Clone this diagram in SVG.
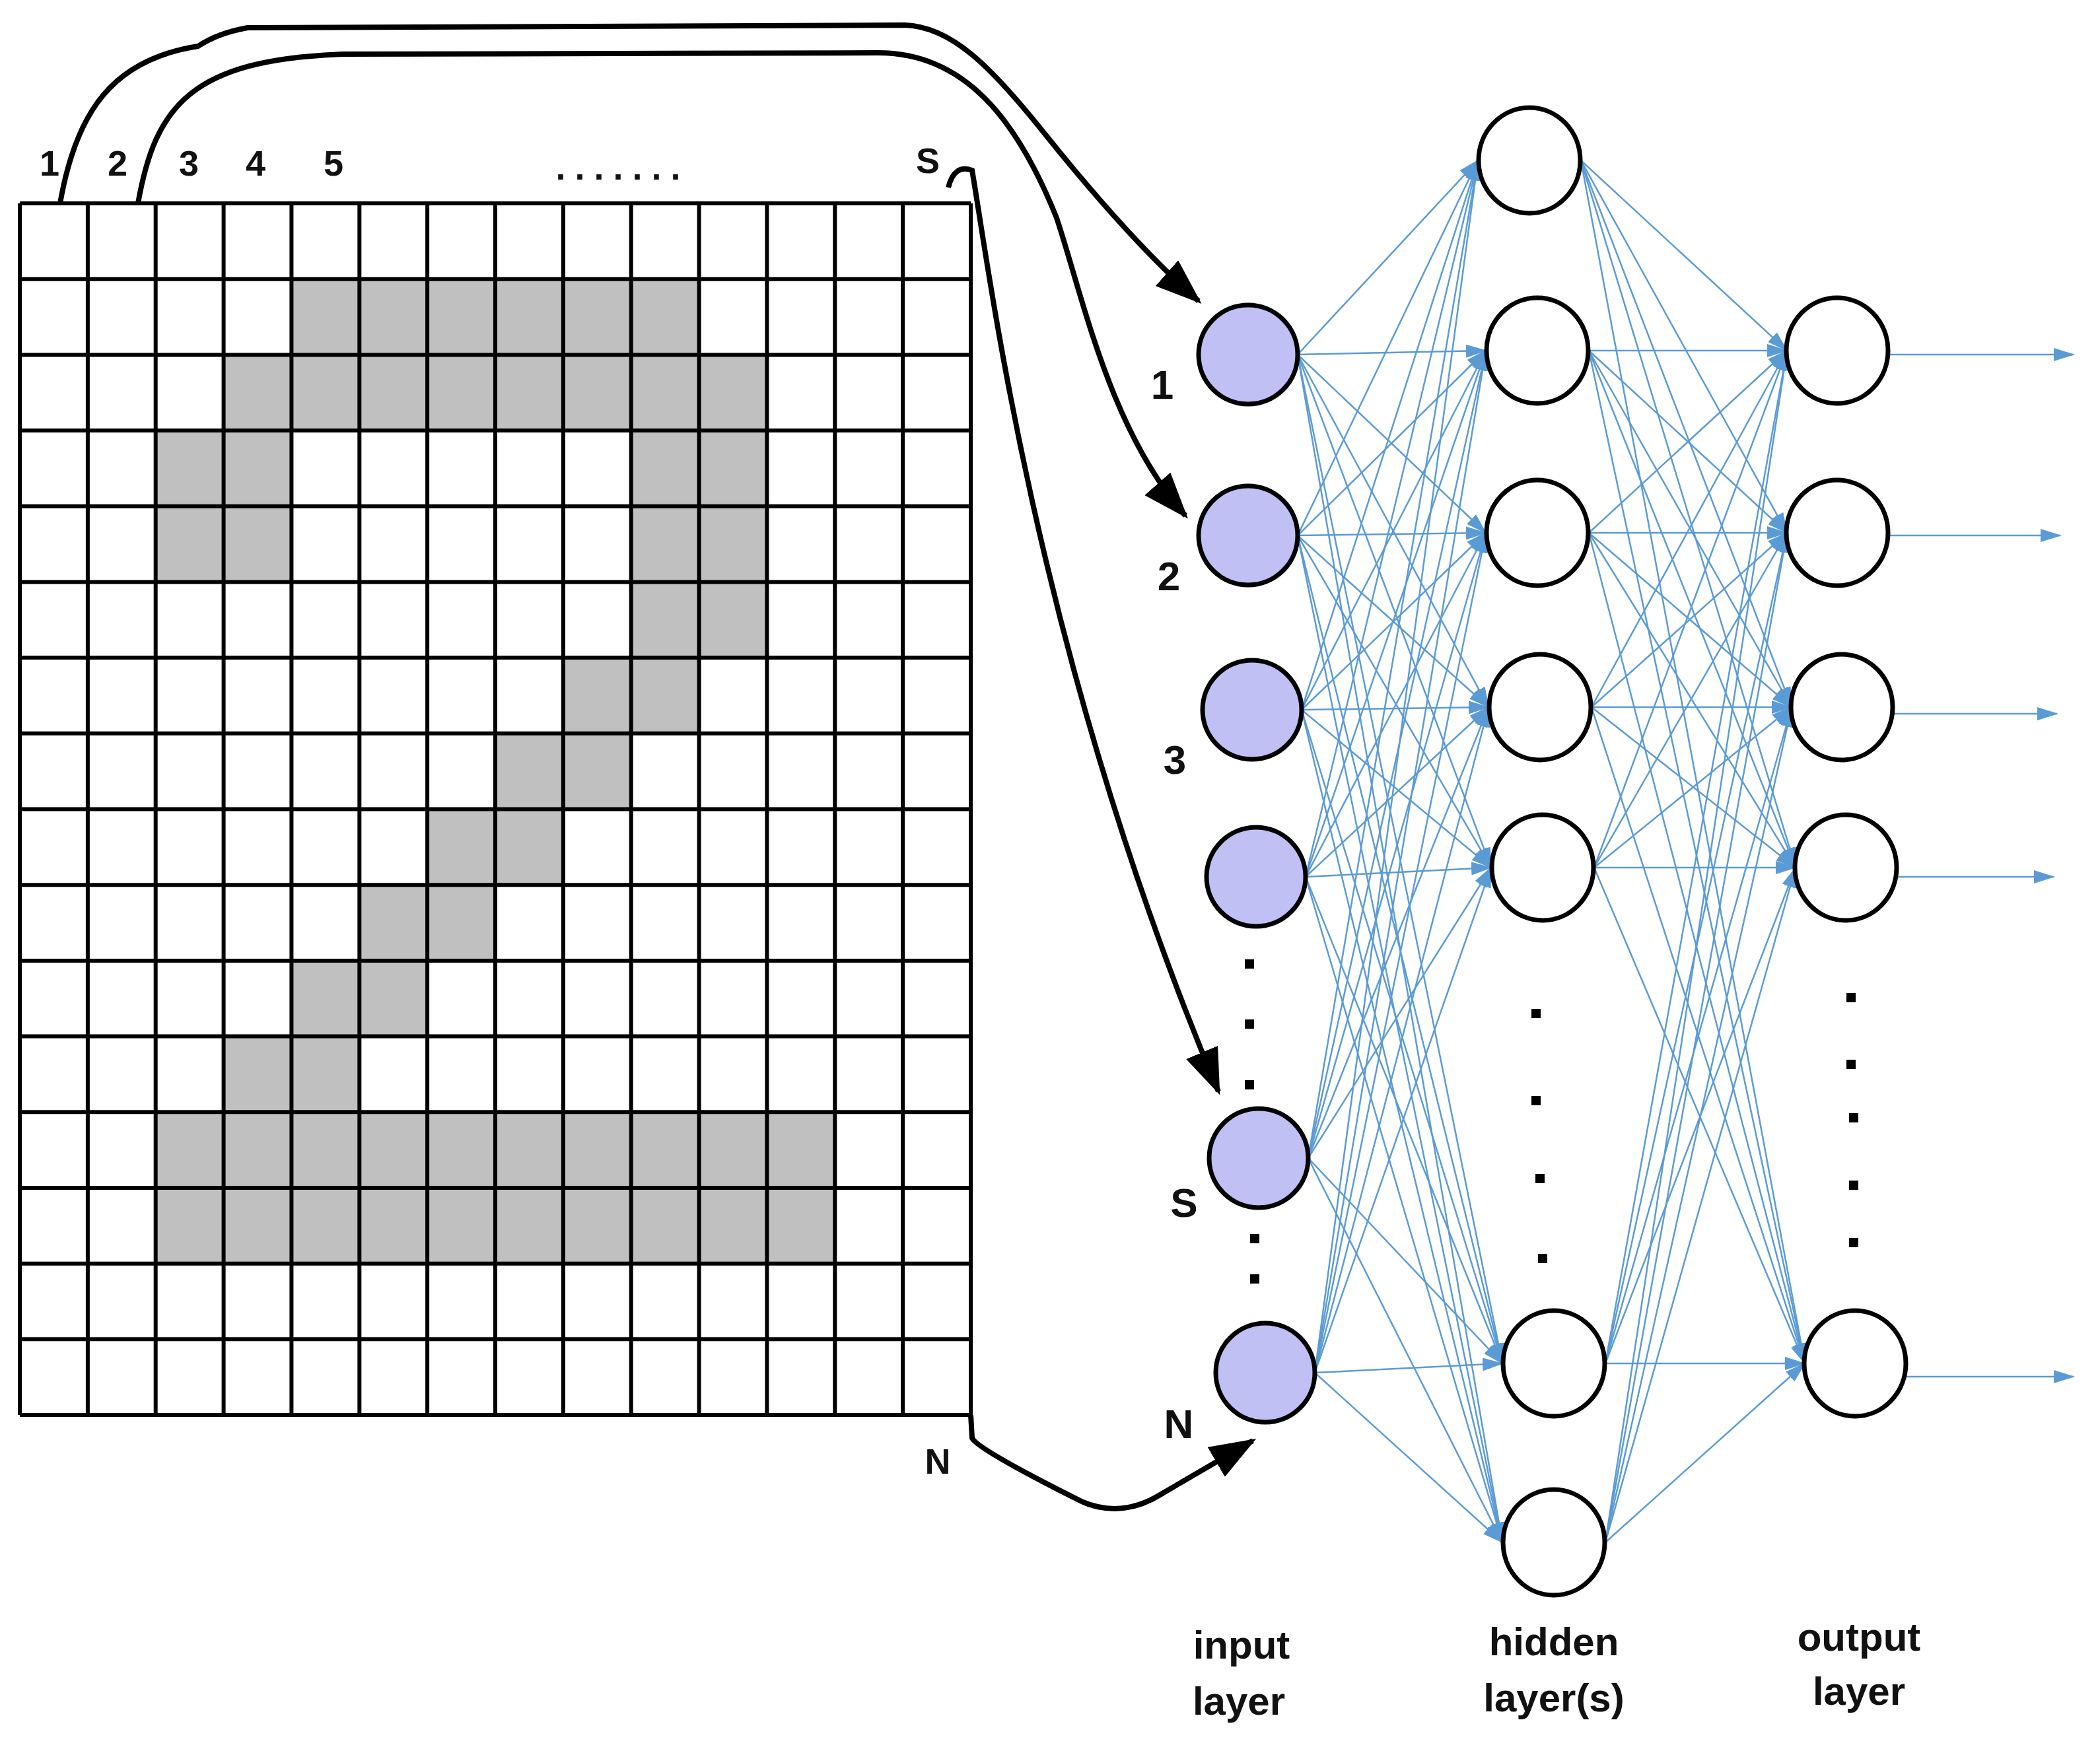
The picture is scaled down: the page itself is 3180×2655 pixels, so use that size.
<svg xmlns="http://www.w3.org/2000/svg" width="3180" height="2655" viewBox="0 0 3180 2655">
<style>
.t{font-family:"Liberation Sans",Arial,sans-serif;font-weight:bold;fill:#111;text-anchor:middle}
.g{fill:#c0c0c0}
.in{fill:#c0c0f5;stroke:#000;stroke-width:7}
.hn{fill:#fff;stroke:#000;stroke-width:7}
.bl line{stroke:#5b9bd5;stroke-width:2.5;marker-end:url(#ba)}
.bk{fill:none;stroke:#000;stroke-width:8;marker-end:url(#ka)}
</style>
<defs>
<marker id="ba" markerUnits="userSpaceOnUse" markerWidth="32" markerHeight="20" refX="30" refY="10" orient="auto"><path d="M0,0 L32,10 L0,20 z" fill="#5b9bd5"/></marker>
<marker id="ka" markerUnits="userSpaceOnUse" markerWidth="70" markerHeight="52" refX="64" refY="26" orient="auto"><path d="M0,0 L70,26 L0,52 z" fill="#000"/></marker>
</defs>
<rect width="3180" height="2655" fill="#fff"/>
<g id="grid">
<rect class="g" x="441.4" y="422.7" width="617.2" height="114.7"/>
<rect class="g" x="338.6" y="537.4" width="822.8" height="114.7"/>
<rect class="g" x="235.7" y="652.1" width="205.7" height="229.4"/>
<rect class="g" x="955.7" y="652.1" width="205.7" height="229.4"/>
<rect class="g" x="955.7" y="881.4" width="205.7" height="114.7"/>
<rect class="g" x="852.9" y="996.1" width="205.7" height="114.7"/>
<rect class="g" x="750" y="1110.8" width="205.7" height="114.7"/>
<rect class="g" x="647.1" y="1225.5" width="205.7" height="114.7"/>
<rect class="g" x="544.3" y="1340.2" width="205.7" height="114.7"/>
<rect class="g" x="441.4" y="1454.9" width="205.7" height="114.7"/>
<rect class="g" x="338.6" y="1569.6" width="205.7" height="114.7"/>
<rect class="g" x="235.7" y="1684.3" width="1028.6" height="229.4"/>
<path fill="none" stroke="#000" stroke-width="6" d="M30,308V2143M132.9,308V2143M235.7,308V2143M338.6,308V2143M441.4,308V2143M544.3,308V2143M647.1,308V2143M750,308V2143M852.9,308V2143M955.7,308V2143M1058.6,308V2143M1161.4,308V2143M1264.3,308V2143M1367.1,308V2143M1470,308V2143
M30,308H1470M30,422.7H1470M30,537.4H1470M30,652.1H1470M30,766.8H1470M30,881.4H1470M30,996.1H1470M30,1110.8H1470M30,1225.5H1470M30,1340.2H1470M30,1454.9H1470M30,1569.6H1470M30,1684.3H1470M30,1799H1470M30,1913.7H1470M30,2028.3H1470M30,2143H1470"/>
<text class="t" x="75" y="266" font-size="54">1</text>
<text class="t" x="178" y="266" font-size="54">2</text>
<text class="t" x="286" y="266" font-size="54">3</text>
<text class="t" x="387" y="266" font-size="54">4</text>
<text class="t" x="505" y="266" font-size="54">5</text>
<text class="t" x="943" y="272" font-size="54" letter-spacing="14">.......</text>
<text class="t" x="1405" y="262" font-size="54">S</text>
<text class="t" x="1420" y="2232" font-size="54">N</text>
</g>
<g id="connectors">
<path class="bk" d="M91,308 C115,170 170,90 300,70 Q330,50 375,42 L1370,38 C1440,40 1500,100 1580,200 C1660,300 1740,390 1815,456"/>
<path class="bk" d="M209,308 C235,160 290,90 520,82 L1330,80 C1460,80 1540,180 1600,330 C1640,450 1680,650 1795,781"/>
<path class="bk" d="M1436,284 Q1445,248 1472,258 C1500,420 1570,1000 1845,1653"/>
<path class="bk" d="M1470,2143 L1472,2178 Q1480,2195 1640,2275 Q1700,2300 1760,2262 L1897,2182"/>
<g class="bl">
<line x1="1965" y1="537" x2="2238" y2="243"/><line x1="1965" y1="537" x2="2250" y2="531"/><line x1="1965" y1="537" x2="2250" y2="807"/><line x1="1965" y1="537" x2="2254" y2="1071"/><line x1="1965" y1="537" x2="2258" y2="1314"/><line x1="1965" y1="537" x2="2275" y2="2065"/><line x1="1965" y1="537" x2="2275" y2="2336"/>
<line x1="1965" y1="811" x2="2238" y2="243"/><line x1="1965" y1="811" x2="2250" y2="531"/><line x1="1965" y1="811" x2="2250" y2="807"/><line x1="1965" y1="811" x2="2254" y2="1071"/><line x1="1965" y1="811" x2="2258" y2="1314"/><line x1="1965" y1="811" x2="2275" y2="2065"/><line x1="1965" y1="811" x2="2275" y2="2336"/>
<line x1="1971" y1="1075" x2="2238" y2="243"/><line x1="1971" y1="1075" x2="2250" y2="531"/><line x1="1971" y1="1075" x2="2250" y2="807"/><line x1="1971" y1="1075" x2="2254" y2="1071"/><line x1="1971" y1="1075" x2="2258" y2="1314"/><line x1="1971" y1="1075" x2="2275" y2="2065"/><line x1="1971" y1="1075" x2="2275" y2="2336"/>
<line x1="1977" y1="1328" x2="2238" y2="243"/><line x1="1977" y1="1328" x2="2250" y2="531"/><line x1="1977" y1="1328" x2="2250" y2="807"/><line x1="1977" y1="1328" x2="2254" y2="1071"/><line x1="1977" y1="1328" x2="2258" y2="1314"/><line x1="1977" y1="1328" x2="2275" y2="2065"/><line x1="1977" y1="1328" x2="2275" y2="2336"/>
<line x1="1981" y1="1754" x2="2238" y2="243"/><line x1="1981" y1="1754" x2="2250" y2="531"/><line x1="1981" y1="1754" x2="2250" y2="807"/><line x1="1981" y1="1754" x2="2254" y2="1071"/><line x1="1981" y1="1754" x2="2258" y2="1314"/><line x1="1981" y1="1754" x2="2275" y2="2065"/><line x1="1981" y1="1754" x2="2275" y2="2336"/>
<line x1="1991" y1="2079" x2="2238" y2="243"/><line x1="1991" y1="2079" x2="2250" y2="531"/><line x1="1991" y1="2079" x2="2250" y2="807"/><line x1="1991" y1="2079" x2="2254" y2="1071"/><line x1="1991" y1="2079" x2="2258" y2="1314"/><line x1="1991" y1="2079" x2="2275" y2="2065"/><line x1="1991" y1="2079" x2="2275" y2="2336"/>
<line x1="2394" y1="243" x2="2706" y2="531"/><line x1="2394" y1="243" x2="2706" y2="807"/><line x1="2394" y1="243" x2="2713" y2="1071"/><line x1="2394" y1="243" x2="2719" y2="1314"/><line x1="2394" y1="243" x2="2733" y2="2065"/>
<line x1="2406" y1="531" x2="2706" y2="531"/><line x1="2406" y1="531" x2="2706" y2="807"/><line x1="2406" y1="531" x2="2713" y2="1071"/><line x1="2406" y1="531" x2="2719" y2="1314"/><line x1="2406" y1="531" x2="2733" y2="2065"/>
<line x1="2406" y1="807" x2="2706" y2="531"/><line x1="2406" y1="807" x2="2706" y2="807"/><line x1="2406" y1="807" x2="2713" y2="1071"/><line x1="2406" y1="807" x2="2719" y2="1314"/><line x1="2406" y1="807" x2="2733" y2="2065"/>
<line x1="2410" y1="1071" x2="2706" y2="531"/><line x1="2410" y1="1071" x2="2706" y2="807"/><line x1="2410" y1="1071" x2="2713" y2="1071"/><line x1="2410" y1="1071" x2="2719" y2="1314"/><line x1="2410" y1="1071" x2="2733" y2="2065"/>
<line x1="2414" y1="1314" x2="2706" y2="531"/><line x1="2414" y1="1314" x2="2706" y2="807"/><line x1="2414" y1="1314" x2="2713" y2="1071"/><line x1="2414" y1="1314" x2="2719" y2="1314"/><line x1="2414" y1="1314" x2="2733" y2="2065"/>
<line x1="2431" y1="2065" x2="2706" y2="531"/><line x1="2431" y1="2065" x2="2706" y2="807"/><line x1="2431" y1="2065" x2="2713" y2="1071"/><line x1="2431" y1="2065" x2="2719" y2="1314"/><line x1="2431" y1="2065" x2="2733" y2="2065"/>
<line x1="2431" y1="2336" x2="2706" y2="531"/><line x1="2431" y1="2336" x2="2706" y2="807"/><line x1="2431" y1="2336" x2="2713" y2="1071"/><line x1="2431" y1="2336" x2="2719" y2="1314"/><line x1="2431" y1="2336" x2="2733" y2="2065"/>
<line x1="2858" y1="537" x2="3140" y2="537"/><line x1="2858" y1="811" x2="3120" y2="811"/><line x1="2865" y1="1081" x2="3115" y2="1081"/><line x1="2871" y1="1328" x2="3110" y2="1328"/><line x1="2885" y1="2085" x2="3140" y2="2085"/>
</g>
</g>
<g id="input-layer">
<circle class="in" cx="1890" cy="537" r="75"/><circle class="in" cx="1890" cy="811" r="75"/><circle class="in" cx="1896" cy="1075" r="75"/><circle class="in" cx="1902" cy="1328" r="75"/><circle class="in" cx="1906" cy="1754" r="75"/><circle class="in" cx="1916" cy="2079" r="75"/>
<text class="t" x="1760" y="604" font-size="62">1</text><text class="t" x="1770" y="894" font-size="62">2</text><text class="t" x="1779" y="1172" font-size="62">3</text><text class="t" x="1793" y="1843" font-size="62">S</text><text class="t" x="1785" y="2178" font-size="62">N</text>
<g fill="#000"><rect x="1885" y="1453" width="14" height="14"/><rect x="1885" y="1544" width="14" height="14"/><rect x="1885" y="1636" width="14" height="14"/><rect x="1893" y="1869" width="14" height="14"/><rect x="1893" y="1930" width="14" height="14"/></g>
<text class="t" x="1880" y="2512" font-size="60">input</text><text class="t" x="1876" y="2597" font-size="60">layer</text>
</g>
<g id="hidden-layer">
<ellipse class="hn" cx="2316" cy="243" rx="77" ry="80"/><ellipse class="hn" cx="2328" cy="531" rx="77" ry="80"/><ellipse class="hn" cx="2328" cy="807" rx="77" ry="80"/><ellipse class="hn" cx="2332" cy="1071" rx="77" ry="80"/><ellipse class="hn" cx="2336" cy="1314" rx="77" ry="80"/><ellipse class="hn" cx="2353" cy="2065" rx="77" ry="80"/><ellipse class="hn" cx="2353" cy="2336" rx="77" ry="80"/>
<g fill="#000"><rect x="2319" y="1528" width="14" height="14"/><rect x="2319" y="1660" width="14" height="14"/><rect x="2325" y="1778" width="14" height="14"/><rect x="2329" y="1899" width="14" height="14"/></g>
<text class="t" x="2353" y="2507" font-size="60">hidden</text><text class="t" x="2353" y="2592" font-size="60">layer(s)</text>
</g>
<g id="output-layer">
<ellipse class="hn" cx="2782" cy="531" rx="77" ry="80"/><ellipse class="hn" cx="2782" cy="807" rx="77" ry="80"/><ellipse class="hn" cx="2789" cy="1071" rx="77" ry="80"/><ellipse class="hn" cx="2795" cy="1314" rx="77" ry="80"/><ellipse class="hn" cx="2809" cy="2065" rx="77" ry="80"/>
<g fill="#000"><rect x="2796" y="1504" width="14" height="14"/><rect x="2796" y="1605" width="14" height="14"/><rect x="2800" y="1686" width="14" height="14"/><rect x="2800" y="1788" width="14" height="14"/><rect x="2800" y="1875" width="14" height="14"/></g>
<text class="t" x="2815" y="2500" font-size="60">output</text><text class="t" x="2815" y="2582" font-size="60">layer</text>
</g>
</svg>
